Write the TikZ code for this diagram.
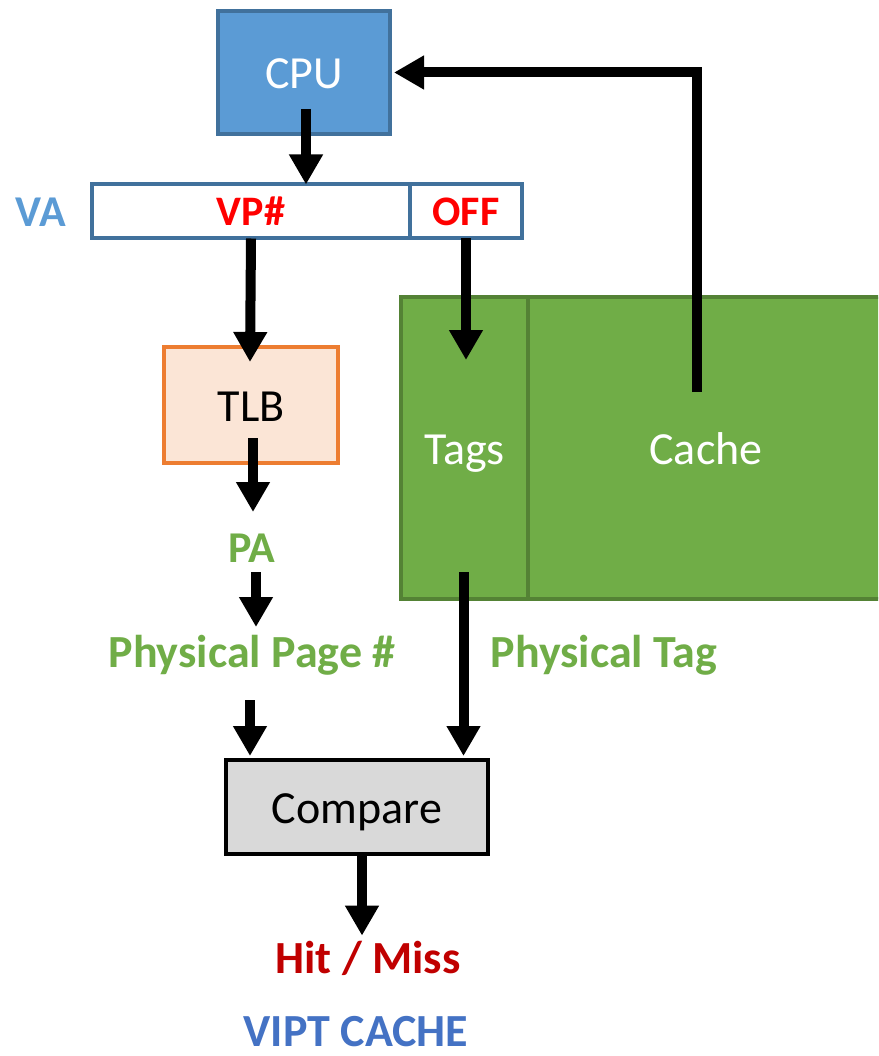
\documentclass[tikz,border=0pt]{standalone}
\usepackage{fontspec}
\setmainfont{Carlito}
\usetikzlibrary{arrows.meta,calc}
\definecolor{cpufill}{HTML}{5B9BD5}
\definecolor{cpuline}{HTML}{41719C}
\definecolor{tlbfill}{HTML}{FBE5D6}
\definecolor{tlbline}{HTML}{ED7D31}
\definecolor{grfill}{HTML}{70AD47}
\definecolor{grline}{HTML}{548235}
\definecolor{cmpfill}{HTML}{D9D9D9}
\definecolor{hitred}{HTML}{C00000}
\definecolor{vipt}{HTML}{4472C4}
\definecolor{vpred}{HTML}{FF0000}
\begin{document}
\begin{tikzpicture}[x=1pt,y=-1pt,
  box/.style={draw,line width=4.5pt,inner sep=0pt,outer sep=0pt,rectangle},
  big/.style={font=\fontsize{46}{50}\selectfont,text height=35pt,text depth=2pt},
  lbl/.style={font=\fontsize{46}{50}\selectfont\bfseries,inner sep=0pt},
  small/.style={font=\fontsize{42}{46}\selectfont\bfseries,text=vpred},
  arr/.style={line width=10pt,line join=miter,-{Triangle[width=32pt,length=30pt]}}]
\useasboundingbox (0,0) rectangle (878,1056);
\begin{scope}
\clip (0,0) rectangle (878,1056);
% boxes
\node[box,big,fill=cpufill,draw=cpuline,text=white,minimum width=172pt,minimum height=123pt] (cpu) at (304,72.5) {CPU};
\node[box,draw=cpuline,line width=4pt,minimum width=318pt,minimum height=54pt,small] (vp) at (251,211.5) {VP\#};
\node[box,draw=cpuline,line width=4pt,minimum width=112pt,minimum height=54pt,small] (off) at (466,211.5) {OFF};
\node[box,big,fill=tlbfill,draw=tlbline,minimum width=174pt,minimum height=116pt] (tlb) at (251,405) {TLB};
\node[box,big,fill=grfill,draw=grline,text=white,minimum width=356pt,minimum height=302pt] (cache) at (706,448) {Cache};
\node[box,big,fill=grfill,draw=grline,text=white,minimum width=127pt,minimum height=302pt] (tags) at (464.5,448) {Tags};
\node[box,big,fill=cmpfill,draw=black,minimum width=262pt,minimum height=94pt] (cmp) at (357,807) {Compare};
\end{scope}
% labels
\node[lbl,text=cpufill,font=\fontsize{44}{48}\selectfont\bfseries] (va) at (41,212) {VA};
\node[lbl,text=grfill,font=\fontsize{44}{48}\selectfont\bfseries] (pa) at (252,548) {PA};
\node[lbl,text=grfill] (ppn) at (252,655) {Physical Page \#};
\node[lbl,text=grfill] (ptag) at (604,655) {Physical Tag};
\node[lbl,text=hitred] (hit) at (368,958) {Hit / Miss};
\node[lbl,text=vipt] (title) at (356,1032) {VIPT CACHE};
% connectors
\draw[arr] ($(cpu.south)+(2,-25)$) -- ($(cpu.south |- vp.north)+(2,0)$);
\draw[arr] (vp.south) -- ($(tlb.north)+(-1,15)$);
\draw[arr] (off.south) -- ($(off.south |- tags.north)+(0,63)$);
\draw[arr] ($(tlb.south)+(2,-25)$) -- ($(pa.center)+(1,-36)$);
\draw[arr] ($(pa.center)+(4,24)$) -- ($(ppn.center)+(4,-28)$);
\draw[arr] ($(ppn.center)+(-2,45)$) -- ($(cmp.north)+(-107,-4)$);
\draw[arr] ($(tags.south)+(-1,-27)$) -- ($(cmp.north -| tags.south)+(-1,-4)$);
\draw[arr] (cmp.south) ++(5,0) -- ($(hit.north)+(-6,-5)$);
\draw[arr] ($(cache.center)+(-9,-56)$) |- ($(cpu.east)+(4,0)$);
\end{tikzpicture}
\end{document}
